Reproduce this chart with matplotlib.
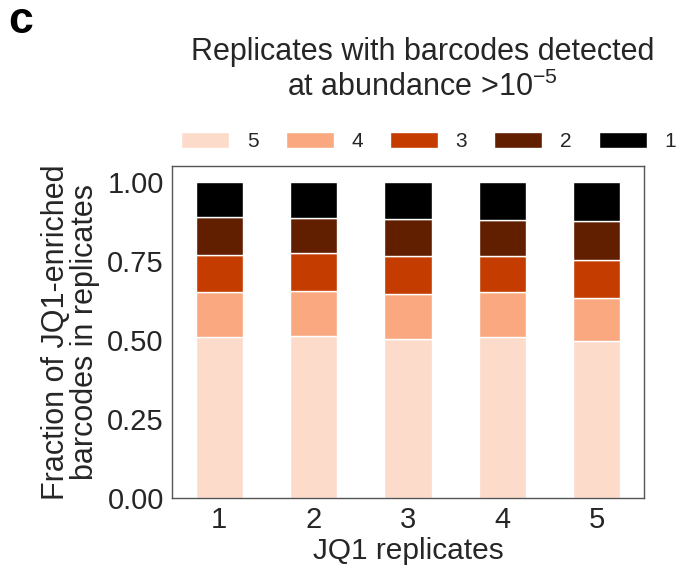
import numpy as np
import matplotlib
matplotlib.use('Agg')
import matplotlib.pyplot as plt

plt.rcParams['font.family'] = ['Liberation Sans', 'DejaVu Sans']
plt.rcParams['mathtext.fontset'] = 'custom'
plt.rcParams['mathtext.rm'] = 'Liberation Sans'
plt.rcParams['mathtext.it'] = 'Liberation Sans:italic'
plt.rcParams['text.color'] = '#262626'
plt.rcParams['axes.labelcolor'] = '#262626'
plt.rcParams['xtick.color'] = '#262626'
plt.rcParams['ytick.color'] = '#262626'

# JQ1 replicates on the x axis
replicates = ['1', '2', '3', '4', '5']
# number of replicates in which barcode detected (stack order bottom -> top)
groups = ['5', '4', '3', '2', '1']
frac_5 = [0.508, 0.513, 0.503, 0.510, 0.498]
frac_4 = [0.144, 0.141, 0.141, 0.141, 0.136]
frac_3 = [0.118, 0.120, 0.122, 0.114, 0.118]
frac_2 = [0.120, 0.111, 0.117, 0.114, 0.124]
frac_1 = [0.110, 0.115, 0.117, 0.121, 0.124]
colors = ['#fcdbcb', '#faa880', '#c43c00', '#611f00', '#000000']

data = [frac_5, frac_4, frac_3, frac_2, frac_1]

fig = plt.figure(figsize=(6.83, 5.69), dpi=100)
ax = fig.add_axes([0.252, 0.125, 0.691, 0.583])

x = np.arange(len(replicates))
bottom = np.zeros(len(replicates))
for lab, vals, c in zip(groups, data, colors):
    ax.bar(x, vals, width=0.5, bottom=bottom, color=c, edgecolor='white',
           linewidth=1, label=lab)
    bottom += np.array(vals)

ax.set_xlim(-0.5, 4.5)
ax.set_ylim(0, 1.05)
ax.set_xticks(x)
ax.set_xticklabels(replicates)
ax.set_yticks([0, 0.25, 0.5, 0.75, 1.0])
ax.set_yticklabels(['0.00', '0.25', '0.50', '0.75', '1.00'])
ax.tick_params(length=0, labelsize=21, pad=6)
for s in ax.spines.values():
    s.set_color('#555555')
    s.set_linewidth(1)

ax.set_xlabel('JQ1 replicates', fontsize=21.5, labelpad=2)
ax.set_ylabel('Fraction of JQ1-enriched\nbarcodes in replicates', fontsize=22,
              labelpad=5, linespacing=0.95)

ax.legend(loc='lower left', bbox_to_anchor=(0.002, 1.02), ncol=5, frameon=False,
          fontsize=15, handlelength=2.3, handleheight=0.75, handletextpad=0.85,
          columnspacing=1.3, borderaxespad=0)

fig.text(0.619, 0.877, 'Replicates with barcodes detected\nat abundance >$10^{-5}$',
         ha='center', va='center', fontsize=22, linespacing=1.2)
fig.text(0.012, 0.962, 'c', fontsize=32, fontweight='bold', color='black',
         va='center')

fig.savefig('out.png', dpi=100)
